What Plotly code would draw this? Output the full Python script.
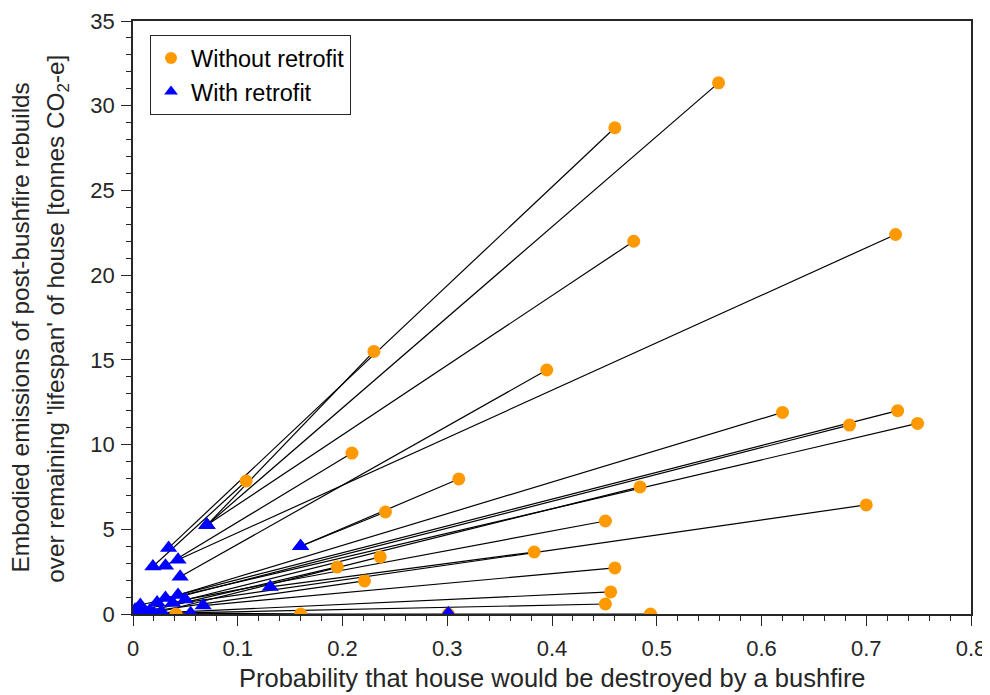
import plotly.graph_objects as go

# Without retrofit (orange circles)
x_without = [0.559, 0.460, 0.478, 0.728, 0.230, 0.395, 0.108, 0.209, 0.620, 0.730,
             0.684, 0.749, 0.311, 0.241, 0.484, 0.451, 0.700, 0.195, 0.236, 0.221,
             0.383, 0.460, 0.456, 0.451, 0.160, 0.494, 0.041, 0.301]
y_without = [31.35, 28.7, 22.0, 22.4, 15.5, 14.4, 7.85, 9.5, 11.9, 12.0,
             11.15, 11.25, 7.97, 6.02, 7.5, 5.49, 6.44, 2.78, 3.37, 1.95,
             3.66, 2.72, 1.30, 0.59, 0.0, 0.0, 0.0, 0.0]
# With retrofit (blue triangles), same house order
x_with = [0.0706, 0.034, 0.0706, 0.043, 0.0706, 0.045, 0.019, 0.031, 0.043, 0.031,
          0.023, 0.007, 0.160, 0.160, 0.038, 0.050, 0.002, 0.016, 0.027, 0.010,
          0.131, 0.067, 0.020, 0.010, 0.055, 0.005, 0.004, 0.301]
y_with = [5.25, 3.9, 5.25, 3.2, 5.25, 2.2, 2.8, 2.85, 1.12, 0.94,
          0.68, 0.53, 4.0, 4.0, 0.65, 0.85, 0.25, 0.2, 0.15, 0.1,
          1.6, 0.5, 0.05, 0.02, 0.05, 0.0, 0.3, 0.05]

x_ticks = [0, 0.1, 0.2, 0.3, 0.4, 0.5, 0.6, 0.7, 0.8]
x_ticklabels = ["0", "0.1", "0.2", "0.3", "0.4", "0.5", "0.6", "0.7", "0.8"]
y_ticks = [0, 5, 10, 15, 20, 25, 30, 35]

x_title = "Probability that house would be destroyed by a bushfire"
y_title_1 = "Embodied emissions of post-bushfire rebuilds"
y_title_2 = "over remaining 'lifespan' of house [tonnes CO<sub>2</sub>-e]"

FONT = "Liberation Sans, Arial, sans-serif"
TXT = "#262626"

lx, ly = [], []
for xa, ya, xb, yb in zip(x_without, y_without, x_with, y_with):
    lx += [xa, xb, None]
    ly += [ya, yb, None]

fig = go.Figure()
fig.add_trace(go.Scatter(x=lx, y=ly, mode="lines",
                         line=dict(color="black", width=1.2),
                         showlegend=False, hoverinfo="skip"))
fig.add_trace(go.Scatter(x=x_without, y=y_without, mode="markers",
                         name="Without retrofit",
                         marker=dict(symbol="circle", size=13, color="#FF9900",
                                     line=dict(width=0))))
fig.add_trace(go.Scatter(x=x_with, y=y_with, mode="markers",
                         name="With retrofit",
                         marker=dict(symbol="triangle-up", size=15, color="#0000FF",
                                     line=dict(width=0))))

fig.update_layout(
    width=982, height=687,
    margin=dict(l=125, r=19, t=13, b=81, autoexpand=False),
    paper_bgcolor="white", plot_bgcolor="white",
    font=dict(family=FONT, size=22, color=TXT),
    showlegend=True,
    legend=dict(x=0.0203, y=0.976, xanchor="left", yanchor="top",
                bgcolor="white", bordercolor=TXT, borderwidth=1,
                font=dict(size=23.5, color="black"),
                itemsizing="constant", tracegroupgap=0),
    annotations=[
        dict(text=x_title, xref="paper", yref="paper", x=0.5, y=-0.108,
             xanchor="center", yanchor="middle", showarrow=False,
             font=dict(size=25.5, color=TXT)),
        dict(text=y_title_1, xref="paper", yref="paper", x=-0.1337, y=0.483,
             xanchor="center", yanchor="middle", showarrow=False, textangle=-90,
             font=dict(size=24.3, color=TXT)),
        dict(text=y_title_2, xref="paper", yref="paper", x=-0.0895, y=0.498,
             xanchor="center", yanchor="middle", showarrow=False, textangle=-90,
             font=dict(size=24.3, color=TXT)),
    ],
)
fig.update_xaxes(
    range=[0, 0.8], tickvals=x_ticks, ticktext=x_ticklabels,
    showgrid=False, zeroline=False,
    showline=True, linecolor=TXT, linewidth=1.5, mirror=True,
    ticks="outside", ticklen=10, tickcolor=TXT, tickwidth=1.3,
    minor=dict(dtick=0.02, ticks="outside", ticklen=5, tickcolor=TXT, tickwidth=1.3, showgrid=False),
    tickfont=dict(size=22, color=TXT), ticklabelstandoff=4,
)
fig.update_yaxes(
    range=[0, 35], tickvals=y_ticks,
    showgrid=False, zeroline=False,
    showline=True, linecolor=TXT, linewidth=1.5, mirror=True,
    ticks="outside", ticklen=10, tickcolor=TXT, tickwidth=1.3,
    minor=dict(dtick=1, ticks="outside", ticklen=5, tickcolor=TXT, tickwidth=1.3, showgrid=False),
    tickfont=dict(size=22, color=TXT), ticklabelstandoff=2,
)

fig.write_html("out.html")
